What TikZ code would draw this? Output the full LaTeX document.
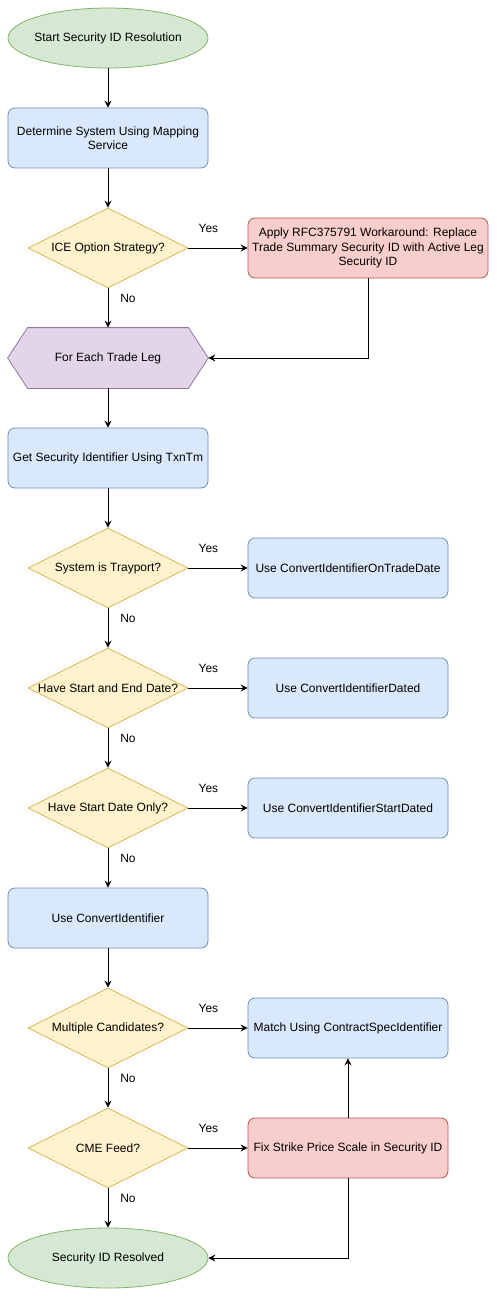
\documentclass[tikz,border=0pt]{standalone}
\usepackage{fontspec}
\setmainfont{Liberation Sans}
\usetikzlibrary{shapes.geometric,arrows.meta,backgrounds}

\definecolor{termfill}{HTML}{D5E8D4}
\definecolor{termline}{HTML}{82B366}
\definecolor{procfill}{HTML}{DAE8FC}
\definecolor{procline}{HTML}{6C8EBF}
\definecolor{decfill}{HTML}{FFF2CC}
\definecolor{decline}{HTML}{D6B656}
\definecolor{warnfill}{HTML}{F8CECC}
\definecolor{warnline}{HTML}{B85450}
\definecolor{loopfill}{HTML}{E1D5E7}
\definecolor{loopline}{HTML}{9673A6}

\newcommand{\ctext}[1]{\makebox[0pt]{#1}}

\tikzset{
  base/.style={font=\fontsize{12}{14.5}\selectfont, line width=0.8pt, align=center, inner sep=2pt},
  term/.style={base, ellipse, draw=termline, fill=termfill, minimum width=200pt, minimum height=60pt, inner sep=0pt},
  proc/.style={base, rectangle, rounded corners=7pt, draw=procline, fill=procfill, minimum width=200pt, minimum height=60pt},
  warn/.style={proc, draw=warnline, fill=warnfill},
  dec/.style={base, diamond, draw=decline, fill=decfill, minimum width=160pt, minimum height=80pt, inner sep=0pt},
  loopbox/.style={base, rectangle, minimum width=200pt, minimum height=60pt},
  flow/.style={-{Stealth[length=7pt,width=7pt,inset=2.5pt]}, line width=0.8pt},
  lbl/.style={font=\fontsize{12}{14}\selectfont, inner sep=0pt}
}

\begin{document}
\begin{tikzpicture}[x=1pt, y=-1pt]
    \useasboundingbox (0,0) rectangle (497,1297);

    % main column
    \node[term] (start) at (108,38) {\ctext{Start Security ID Resolution}};
    \node[proc] (map) at (108,138) {Determine System Using Mapping\\Service};
    \node[dec] (ice) at (108,248) {\ctext{ICE Option Strategy?}};
    \node[loopbox] (leg) at (108,358) {For Each Trade Leg};
    \node[proc] (getid) at (108,458) {Get Security Identifier Using TxnTm};
    \node[dec] (tray) at (108,568) {\ctext{System is Trayport?}};
    \node[dec] (dated) at (108,688) {\ctext{Have Start and End Date?}};
    \node[dec] (only) at (108,808) {\ctext{Have Start Date Only?}};
    \node[proc] (conv) at (108,918) {Use ConvertIdentifier};
    \node[dec] (multi) at (108,1028) {\ctext{Multiple Candidates?}};
    \node[dec] (cme) at (108,1148) {\ctext{CME Feed?}};
    \node[term] (done) at (108,1258) {\ctext{Security ID Resolved}};

    % right column
    \node[warn, minimum width=240pt] (apply) at (368,248) {Apply RFC375791 Workaround: Replace\\Trade Summary Security ID with Active Leg\\Security ID};
    \node[proc] (ontd) at (348,568) {Use ConvertIdentifierOnTradeDate};
    \node[proc] (usedated) at (348,688) {Use ConvertIdentifierDated};
    \node[proc] (usestart) at (348,808) {Use ConvertIdentifierStartDated};
    \node[proc] (match) at (348,1028) {Match Using ContractSpecIdentifier};
    \node[warn] (fix) at (348,1148) {Fix Strike Price Scale in Security ID};

    % hexagon for the loop
    \begin{scope}[on background layer]
    \draw[line width=0.8pt, draw=loopline, fill=loopfill] (leg.west) -- ([xshift=20pt]leg.north west)
        -- ([xshift=-20pt]leg.north east) -- (leg.east) -- ([xshift=-20pt]leg.south east)
        -- ([xshift=20pt]leg.south west) -- cycle;
    \end{scope}

    % connectors
    \draw[flow] (start) -- (map);
    \draw[flow] (map) -- (ice);
    \draw[flow] (ice) -- (apply);
    \draw[flow] (ice) -- (leg);
    \draw[flow] (apply.south) |- (leg.east);
    \draw[flow] (leg) -- (getid);
    \draw[flow] (getid) -- (tray);
    \draw[flow] (tray) -- (ontd);
    \draw[flow] (tray) -- (dated);
    \draw[flow] (dated) -- (usedated);
    \draw[flow] (dated) -- (only);
    \draw[flow] (only) -- (usestart);
    \draw[flow] (only) -- (conv);
    \draw[flow] (conv) -- (multi);
    \draw[flow] (multi) -- (match);
    \draw[flow] (multi) -- (cme);
    \draw[flow] (cme) -- (fix);
    \draw[flow] (cme) -- (done);
    \draw[flow] (fix) -- (match);
    \draw[flow] (fix.south) |- (done.east);

    % yes / no labels
    \foreach \d in {ice,tray,dated,only,multi,cme} {
        \node[lbl] (yes-\d) at ([xshift=20pt,yshift=20pt]\d.east) {Yes};
        \node[lbl] (no-\d) at ([xshift=20pt,yshift=-10pt]\d.south) {No};
    }
\end{tikzpicture}
\end{document}
